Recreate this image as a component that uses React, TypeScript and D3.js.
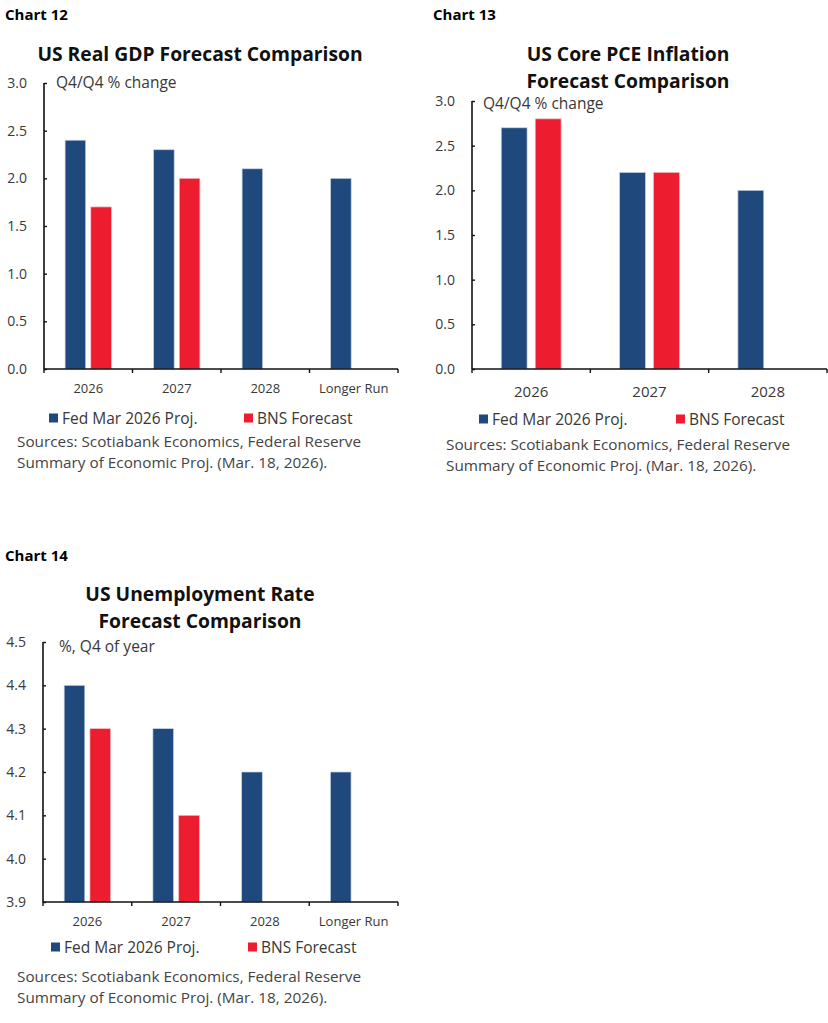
import React, { useEffect, useRef } from 'react';
import * as d3 from 'd3';

// Forecast values (Fed SEP vs BNS), null where no BNS forecast exists
const yearsLong = ['2026', '2027', '2028', 'Longer Run'];
const yearsShort = ['2026', '2027', '2028'];

const gdpFed = [2.4, 2.3, 2.1, 2.0];
const gdpBns: (number | null)[] = [1.7, 2.0, null, null];

const pceFed = [2.7, 2.2, 2.0];
const pceBns: (number | null)[] = [2.8, 2.2, null];

const unempFed = [4.4, 4.3, 4.2, 4.2];
const unempBns: (number | null)[] = [4.3, 4.1, null, null];

const pctTicks = [0, 0.5, 1.0, 1.5, 2.0, 2.5, 3.0];
const unempTicks = [3.9, 4.0, 4.1, 4.2, 4.3, 4.4, 4.5];

const seriesNames = ['Fed Mar 2026 Proj.', 'BNS Forecast'];
const sourceLines = [
  'Sources: Scotiabank Economics, Federal Reserve',
  'Summary of Economic Proj. (Mar. 18, 2026).',
];

const NAVY = '#1f497d';
const RED = '#ed1c2e';
const FONT = '"Open Sans", sans-serif';
const TEXT = '#383838';

interface PanelLayout {
  label: string;
  labelX: number;
  labelY: number;
  title: string[];
  titleX: number;
  titleY: number;
  unit: string;
  unitX: number;
  unitY: number;
  categories: string[];
  fed: number[];
  bns: (number | null)[];
  ticks: number[];
  domain: [number, number];
  xLeft: number;
  xRight: number;
  yTop: number;
  yBottom: number;
  padInner: number;
  padOuter: number;
  catFont: number;
  catY: number;
  legendY: number;
  legendX: [number, number];
  sourceX: number;
  sourceY: number;
}

const panels: PanelLayout[] = [
  {
    label: 'Chart 12', labelX: 5, labelY: 20,
    title: ['US Real GDP Forecast Comparison'], titleX: 200, titleY: 61,
    unit: 'Q4/Q4 % change', unitX: 56, unitY: 88,
    categories: yearsLong, fed: gdpFed, bns: gdpBns,
    ticks: pctTicks, domain: [0, 3],
    xLeft: 44, xRight: 398, yTop: 83, yBottom: 369,
    padInner: 0.2, padOuter: 0.82, catFont: 13, catY: 393,
    legendY: 418, legendX: [49, 244], sourceX: 17, sourceY: 447,
  },
  {
    label: 'Chart 13', labelX: 433, labelY: 20,
    title: ['US Core PCE Inflation', 'Forecast Comparison'], titleX: 628, titleY: 61,
    unit: 'Q4/Q4 % change', unitX: 483, unitY: 109,
    categories: yearsShort, fed: pceFed, bns: pceBns,
    ticks: pctTicks, domain: [0, 3],
    xLeft: 472, xRight: 827, yTop: 101, yBottom: 369,
    padInner: 0.24, padOuter: 0.86, catFont: 15, catY: 397,
    legendY: 419, legendX: [479, 676], sourceX: 446, sourceY: 450,
  },
  {
    label: 'Chart 14', labelX: 5, labelY: 561,
    title: ['US Unemployment Rate', 'Forecast Comparison'], titleX: 200, titleY: 601,
    unit: '%, Q4 of year', unitX: 59, unitY: 652,
    categories: yearsLong, fed: unempFed, bns: unempBns,
    ticks: unempTicks, domain: [3.9, 4.5],
    xLeft: 43, xRight: 398, yTop: 642, yBottom: 902,
    padInner: 0.2, padOuter: 0.82, catFont: 13, catY: 926,
    legendY: 947, legendX: [51, 248], sourceX: 17, sourceY: 982,
  },
];

function drawPanel(svg: d3.Selection<SVGSVGElement, unknown, null, undefined>, p: PanelLayout) {
  const g = svg.append('g');

  g.append('text')
    .attr('x', p.labelX).attr('y', p.labelY)
    .attr('font-size', 15).attr('font-weight', 700).attr('fill', '#000')
    .text(p.label);

  p.title.forEach((line, i) => {
    g.append('text')
      .attr('x', p.titleX).attr('y', p.titleY + i * 27)
      .attr('text-anchor', 'middle')
      .attr('font-size', 19.3).attr('font-weight', 700).attr('fill', '#111')
      .text(line);
  });

  const x = d3.scaleBand<string>().domain(p.categories).range([p.xLeft, p.xRight]);
  const inner = d3.scaleBand<string>()
    .domain(['fed', 'bns'])
    .range([0, x.bandwidth()])
    .paddingInner(p.padInner)
    .paddingOuter(p.padOuter);
  const y = d3.scaleLinear().domain(p.domain).range([p.yBottom, p.yTop]);

  const rows = p.categories.map((c, i) => ({ cat: c, fed: p.fed[i], bns: p.bns[i] }));

  // bars
  const groups = g.selectAll('g.cat').data(rows).enter().append('g')
    .attr('class', 'cat')
    .attr('transform', d => `translate(${x(d.cat)},0)`);

  groups.append('rect')
    .attr('x', inner('fed')!)
    .attr('width', inner.bandwidth())
    .attr('y', d => y(d.fed))
    .attr('height', d => y(p.domain[0]) - y(d.fed))
    .attr('fill', NAVY)
    .attr('stroke', '#c7d1de').attr('stroke-width', 0.7);

  groups.filter(d => d.bns != null).append('rect')
    .attr('x', inner('bns')!)
    .attr('width', inner.bandwidth())
    .attr('y', d => y(d.bns as number))
    .attr('height', d => y(p.domain[0]) - y(d.bns as number))
    .attr('fill', RED)
    .attr('stroke', '#f3b9bf').attr('stroke-width', 0.7);

  // y axis: ticks point inward
  const yAxis = g.append('g')
    .attr('transform', `translate(${p.xLeft},0)`)
    .call(d3.axisRight(y).tickValues(p.ticks).tickSize(3).tickFormat(() => ''));
  yAxis.select('.domain').attr('stroke', '#111').attr('stroke-width', 1.6)
    .attr('d', `M0,${p.yTop}V${p.yBottom}`);
  yAxis.selectAll('.tick line').attr('stroke', '#111').attr('stroke-width', 1.4);

  g.selectAll('text.ytick').data(p.ticks).enter().append('text')
    .attr('class', 'ytick')
    .attr('x', p.xLeft - 17).attr('y', d => y(d))
    .attr('dy', '0.36em')
    .attr('text-anchor', 'end')
    .attr('font-size', 14).attr('fill', TEXT)
    .text(d => d3.format('.1f')(d));

  // x axis with category boundary ticks
  const bounds = p.categories.map(c => x(c)!).concat([p.xRight]);
  g.append('line')
    .attr('x1', p.xLeft).attr('x2', p.xRight)
    .attr('y1', p.yBottom).attr('y2', p.yBottom)
    .attr('stroke', '#111').attr('stroke-width', 1.6);
  g.selectAll('line.xtick').data(bounds).enter().append('line')
    .attr('class', 'xtick')
    .attr('x1', d => d).attr('x2', d => d)
    .attr('y1', p.yBottom).attr('y2', p.yBottom + 4)
    .attr('stroke', '#111').attr('stroke-width', 1.4);

  g.selectAll('text.xcat').data(p.categories).enter().append('text')
    .attr('class', 'xcat')
    .attr('x', d => x(d)! + x.bandwidth() / 2).attr('y', p.catY)
    .attr('text-anchor', 'middle')
    .attr('font-size', p.catFont).attr('fill', TEXT)
    .text(d => d);

  g.append('text')
    .attr('x', p.unitX).attr('y', p.unitY)
    .attr('font-size', 15.5).attr('fill', TEXT)
    .text(p.unit);

  // legend
  seriesNames.forEach((name, i) => {
    g.append('rect')
      .attr('x', p.legendX[i]).attr('y', p.legendY - 4.5)
      .attr('width', 9).attr('height', 9)
      .attr('fill', i === 0 ? NAVY : RED);
    g.append('text')
      .attr('x', p.legendX[i] + 13).attr('y', p.legendY + 5.5)
      .attr('font-size', 15.5).attr('fill', TEXT)
      .text(name);
  });

  sourceLines.forEach((line, i) => {
    g.append('text')
      .attr('x', p.sourceX).attr('y', p.sourceY + i * 20.5)
      .attr('font-size', 15.3).attr('fill', '#444')
      .text(line);
  });
}

export default function App() {
  const ref = useRef<SVGSVGElement>(null);

  useEffect(() => {
    const svg = d3.select(ref.current!);
    svg.selectAll('*').remove();
    panels.forEach(p => drawPanel(svg, p));
  }, []);

  return (
    <div style={{ position: 'absolute', left: 0, top: 0, background: '#fff' }}>
      <svg ref={ref} width={828} height={1023} style={{ display: 'block', fontFamily: FONT }} />
    </div>
  );
}
